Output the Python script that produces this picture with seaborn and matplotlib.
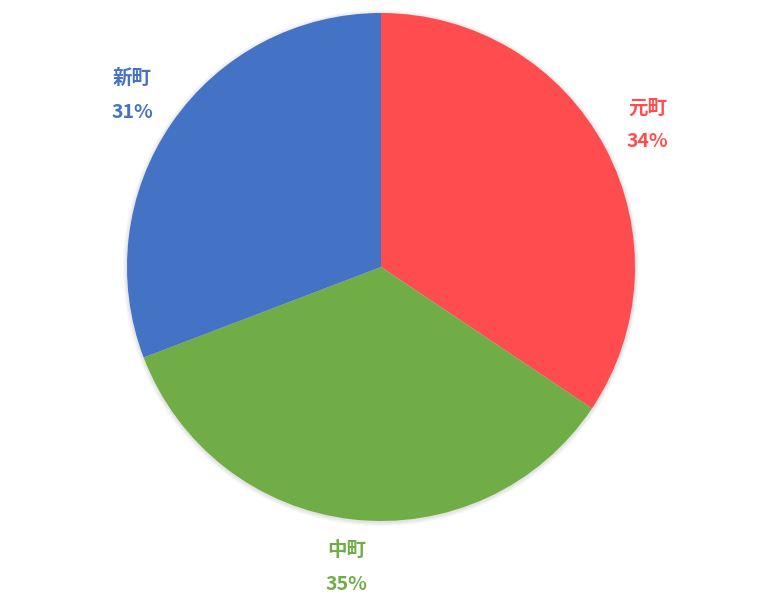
import matplotlib
matplotlib.use("Agg")
import matplotlib.pyplot as plt
from matplotlib.patches import Circle
import seaborn as sns

# data
towns = ["元町", "中町", "新町"]
shares = [34.4, 34.8, 30.8]
colors = ["#FF4D4F", "#70AD47", "#4472C4"]

sns.set_theme(style="white")
plt.rcParams['font.family'] = ['Noto Sans CJK JP', 'DejaVu Sans']

fig = plt.figure(figsize=(7.68, 5.99), dpi=100)
ax = fig.add_axes([0, 0, 1, 1])

cx, cy, r = 381, 332, 254

# soft glow around the pie
for i, a in enumerate([0.05, 0.05, 0.06, 0.07]):
    ax.add_patch(Circle((cx, cy - 1), r + 4 - i, color="#888888", alpha=a, lw=0, zorder=0))

labels = [f"{t}\n{round(s)}%" for t, s in zip(towns, shares)]
wedges, texts = ax.pie(shares, colors=colors, startangle=90, counterclock=False,
                       center=(cx, cy), radius=r, labels=labels, labeldistance=1.19,
                       wedgeprops=dict(linewidth=0), frame=True)
for t, c in zip(texts, colors):
    t.set_color(c)
    t.set_fontsize(14)
    t.set_fontweight("bold")
    t.set_ha("center")
    t.set_va("center")
    t.set_linespacing(2.0)

ax.set_xlim(0, 768)
ax.set_ylim(0, 599)
ax.set_aspect("equal")
ax.axis("off")

fig.savefig("out.png", dpi=100)
